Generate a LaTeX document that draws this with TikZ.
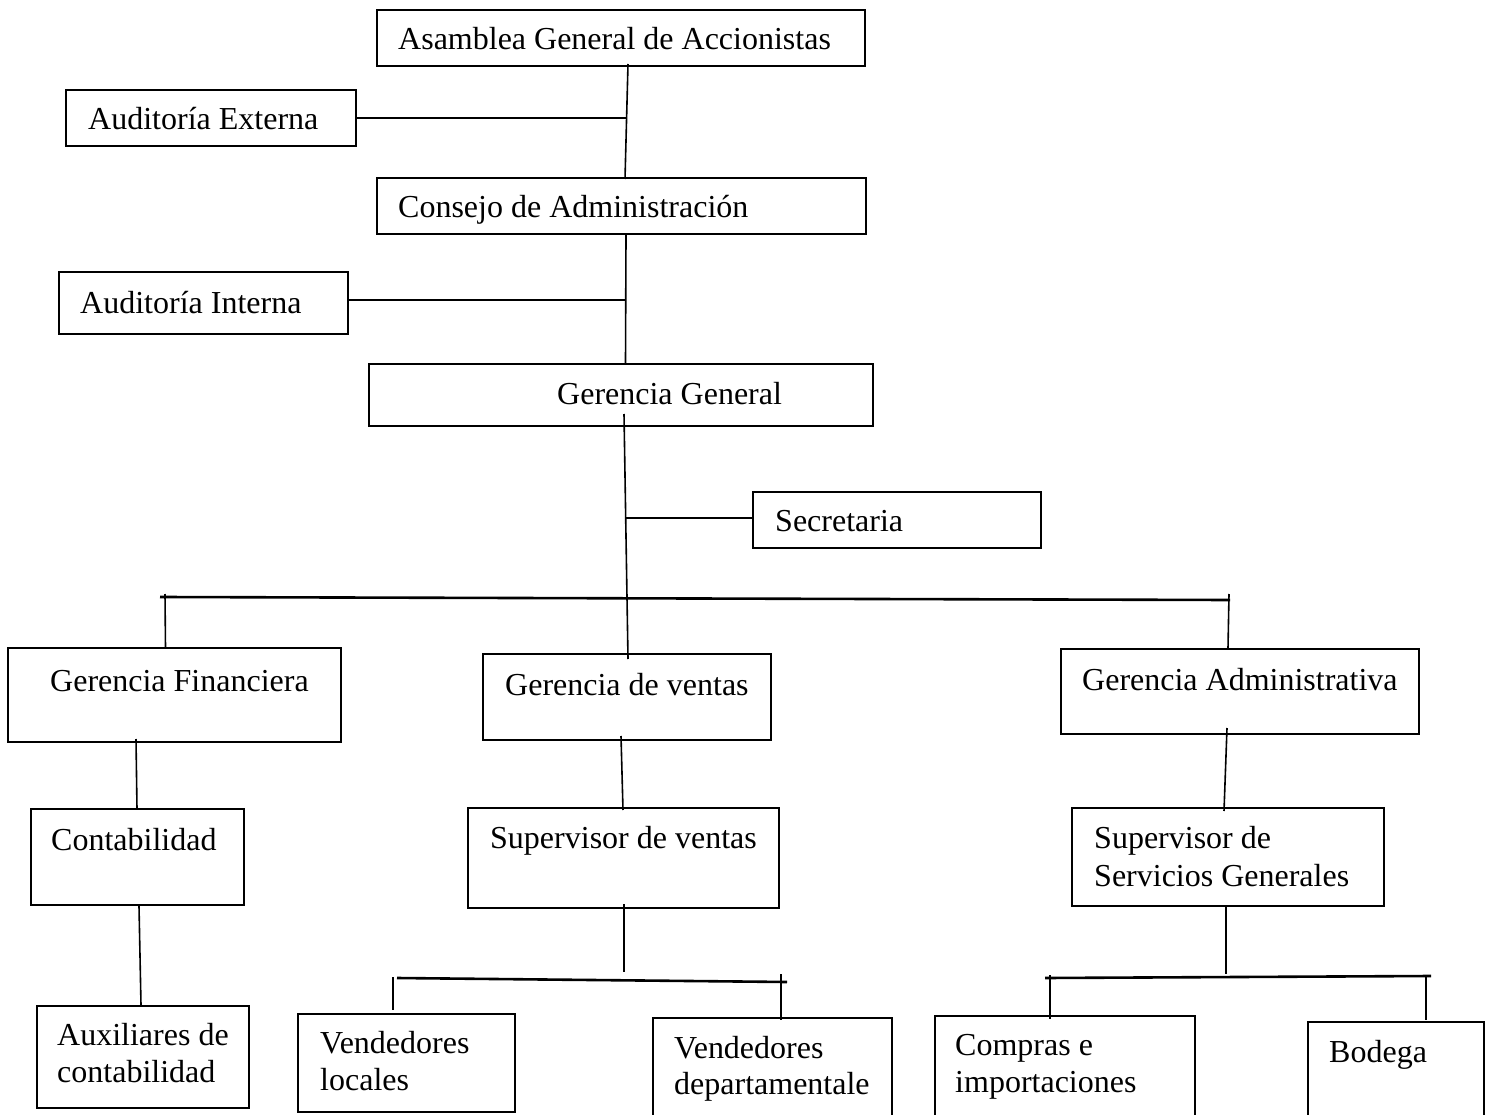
\documentclass[tikz,border=0pt]{standalone}
\usepackage{fontspec}
\setmainfont{Liberation Serif}
\usetikzlibrary{calc}
\begin{document}
\begin{tikzpicture}[x=1pt,y=-1pt,
  box/.style={draw, line width=2pt, inner sep=0pt, rectangle},
  lbl/.style={anchor=base west, inner sep=0pt, font=\fontsize{32}{37}\selectfont},
  link/.style={line width=1.6pt},
  bar/.style={line width=2.6pt}]
\useasboundingbox (0,0) rectangle (1494,1115);
\clip (0,0) rectangle (1494,1115);
\fill[white] (0,0) rectangle (1494,1115);

% ---- boxes ----
\node[box, minimum width=488pt, minimum height=56pt]  (asam) at (621,38)     {};
\node[box, minimum width=290pt, minimum height=56pt]  (ext)  at (211,118)    {};
\node[box, minimum width=489pt, minimum height=56pt]  (cons) at (621.5,206)  {};
\node[box, minimum width=289pt, minimum height=62pt]  (int)  at (203.5,303)  {};
\node[box, minimum width=504pt, minimum height=62pt]  (gg)   at (621,395)    {};
\node[box, minimum width=288pt, minimum height=56pt]  (sec)  at (897,520)    {};
\node[box, minimum width=333pt, minimum height=94pt]  (gf)   at (174.5,695)  {};
\node[box, minimum width=288pt, minimum height=86pt]  (gv)   at (627,697)    {};
\node[box, minimum width=358pt, minimum height=85pt]  (ga)   at (1240,691.5) {};
\node[box, minimum width=213pt, minimum height=96pt]  (cont) at (137.5,857)  {};
\node[box, minimum width=311pt, minimum height=100pt] (sv)   at (623.5,858)  {};
\node[box, minimum width=312pt, minimum height=98pt]  (ssg)  at (1228,857)   {};
\node[box, minimum width=212pt, minimum height=102pt] (aux)  at (143,1057)   {};
\node[box, minimum width=217pt, minimum height=98pt]  (vl)   at (406.5,1063) {};
\node[box, minimum width=239pt, minimum height=112pt] (vd)   at (772.5,1074) {};
\node[box, minimum width=260pt, minimum height=114pt] (comp) at (1065,1073)  {};
\node[box, minimum width=176pt, minimum height=108pt] (bod)  at (1396,1076)  {};

% ---- texts ----
\node[lbl] (asamT) at (398,50)   {Asamblea General de Accionistas};
\node[lbl] (extT)  at (88,130)   {Auditoría Externa};
\node[lbl] (consT) at (398,218)  {Consejo de Administración};
\node[lbl] (intT)  at (80,313)   {Auditoría Interna};
\node[lbl] (ggT)   at (557,404)  {Gerencia General};
\node[lbl] (secT)  at (775,531)  {Secretaria};
\node[lbl] (gfT)   at (50,691)   {Gerencia Financiera};
\node[lbl] (gvT)   at (505,695)  {Gerencia de ventas};
\node[lbl] (gaT)   at (1082,690) {Gerencia Administrativa};
\node[lbl] (contT) at (51,850)   {Contabilidad};
\node[lbl] (svT)   at (490,848)  {Supervisor de ventas};
\node[lbl] (ssgT1) at (1094,848) {Supervisor de};
\node[lbl] (ssgT2) at (1094,886) {Servicios Generales};
\node[lbl] (auxT1) at (57,1045)  {Auxiliares de};
\node[lbl] (auxT2) at (57,1082)  {contabilidad};
\node[lbl] (vlT1)  at (320,1053) {Vendedores};
\node[lbl] (vlT2)  at (320,1090) {locales};
\node[lbl] (vdT1)  at (674,1058) {Vendedores};
\node[lbl] (vdT2)  at (674,1094) {departamentale};
\node[lbl] (compT1) at (955,1055) {Compras e};
\node[lbl] (compT2) at (955,1092) {importaciones};
\node[lbl] (bodT)  at (1329,1062) {Bodega};

% ---- junction points ----
\coordinate (jext) at (626.5,118);
\coordinate (jint) at (625.5,300);
\coordinate (jsec) at (625.5,518);
\coordinate (barL) at (160,597);
\coordinate (barR) at (1230,600);
\coordinate (svEnd) at (624,972);
\coordinate (vbarL) at (393,978);
\coordinate (vbarR) at (787,982);
\coordinate (ssgEnd) at (1226,974);
\coordinate (sbarL) at (1045,978);
\coordinate (sbarR) at (1431,976);

% ---- upper chain ----
\draw[link] ([xshift=7pt,yshift=3pt]asam.south) -- ([xshift=3.5pt,yshift=-2pt]cons.north);
\draw[link] (ext.east) -- (jext);
\draw[link] ([xshift=4.5pt]cons.south) -- ([xshift=4.5pt]gg.north);
\draw[link] (jint -| int.east) -- (jint);
\draw[link] ([xshift=3pt,yshift=13pt]gg.south) -- ([xshift=1pt,yshift=-6pt]gv.north);
\draw[link] (jsec) -- (jsec -| sec.west);

% ---- main branch bar ----
\draw[bar] (barL) -- (barR);
\draw[link] ([xshift=-9.5pt,yshift=53pt]gf.north) -- ([xshift=-9pt,yshift=-1pt]gf.north);
\draw[link] ([xshift=-11pt,yshift=54pt]ga.north) -- ([xshift=-12pt,yshift=0pt]ga.north);

% ---- finance ----
\draw[link] ([xshift=-38.5pt,yshift=4pt]gf.south) -- ([xshift=-0.5pt,yshift=-1pt]cont.north);
\draw[link] ([xshift=1.5pt]cont.south) -- ([xshift=-2pt]aux.north);

% ---- sales ----
\draw[link] ([xshift=-6pt,yshift=5pt]gv.south) -- ([xshift=-0.5pt,yshift=-3pt]sv.north);
\draw[link] ([xshift=0.5pt,yshift=5pt]sv.south) -- (svEnd);
\draw[bar] ([xshift=4pt]vbarL) -- (vbarR);
\draw[link] ([yshift=1pt]vbarL) -- ([xshift=-13.5pt,yshift=3pt]vl.north);
\draw[link] ([xshift=8.5pt,yshift=43pt]vd.north) -- ([xshift=8.5pt,yshift=-3pt]vd.north);

% ---- administration ----
\draw[link] ([xshift=-13pt,yshift=7pt]ga.south) -- ([xshift=-4pt,yshift=-4pt]ssg.north);
\draw[link] ([xshift=-2pt]ssg.south) -- (ssgEnd);
\draw[bar] (sbarL) -- (sbarR);
\draw[link] ([xshift=-15pt,yshift=40pt]comp.north) -- ([xshift=-15pt,yshift=-4pt]comp.north);
\draw[link] ([xshift=30pt,yshift=46pt]bod.north) -- ([xshift=30pt,yshift=1pt]bod.north);
\end{tikzpicture}
\end{document}
